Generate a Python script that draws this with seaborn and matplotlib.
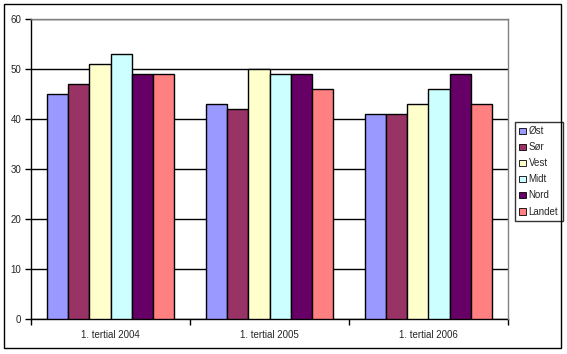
import pandas as pd
import matplotlib
matplotlib.use("Agg")
import matplotlib.pyplot as plt
import seaborn as sns
from matplotlib.patches import Rectangle

# Data
perioder = ["1. tertial 2004", "1. tertial 2005", "1. tertial 2006"]
regioner = ["Øst", "Sør", "Vest", "Midt", "Nord", "Landet"]
ost = [45, 43, 41]
sor = [47, 42, 41]
vest = [51, 50, 43]
midt = [53, 49, 46]
nord = [49, 49, 49]
landet = [49, 46, 43]

farger = ["#9999FF", "#993366", "#FFFFCC", "#CCFFFF", "#660066", "#FF8080"]

verdier = [ost, sor, vest, midt, nord, landet]
rows = []
for reg, vals in zip(regioner, verdier):
    for per, v in zip(perioder, vals):
        rows.append({"Periode": per, "Region": reg, "Verdi": v})
df = pd.DataFrame(rows)

sns.set_style("white")
plt.rcParams["font.family"] = ["Liberation Sans", "DejaVu Sans"]

fig = plt.figure(figsize=(5.67, 3.54), dpi=100)
ax = fig.add_axes([31 / 567, 35 / 354, 477 / 567, 300 / 354])

sns.barplot(data=df, x="Periode", y="Verdi", hue="Region", order=perioder,
            hue_order=regioner, palette=farger, width=0.8, edgecolor="black",
            linewidth=1.0, saturation=1, ax=ax, zorder=3)

ax.set_ylim(0, 60)
ax.set_xlim(-0.5, 2.5)
ax.set_yticks(range(0, 61, 10))
ax.yaxis.grid(True, color="black", linewidth=1.0, zorder=0)
ax.set_axisbelow(True)
ax.set_xlabel("")
ax.set_ylabel("")

# category ticks between groups, labels in the middle
ax.set_xticks([0, 1, 2])
ax.set_xticklabels(perioder)
ax.set_xticks([-0.5, 0.5, 1.5, 2.5], minor=True)
ax.tick_params(axis="x", which="major", length=0, labelsize=7, pad=8)
ax.tick_params(axis="x", which="minor", length=4, width=1, color="black", direction="out", bottom=True)
ax.tick_params(axis="y", length=4, width=1, color="black", direction="out", left=True, labelsize=7, pad=3)

for side in ["left", "bottom"]:
    ax.spines[side].set_color("black")
    ax.spines[side].set_linewidth(1.0)
for side in ["top", "right"]:
    ax.spines[side].set_color("#808080")
    ax.spines[side].set_linewidth(1.0)
    ax.spines[side].set_zorder(10)

leg = ax.legend(loc="upper left", bbox_to_anchor=(515 / 567, 1 - 122 / 354),
                bbox_transform=fig.transFigure, fontsize=7, frameon=True,
                fancybox=False, edgecolor="black", handlelength=0.7,
                handleheight=0.7, handletextpad=0.25, borderpad=0.45,
                labelspacing=0.62, borderaxespad=0)
leg.get_frame().set_linewidth(1.0)
for h in leg.legend_handles:
    h.set_edgecolor("black")
    h.set_linewidth(0.6)

# outer chart frame
fig.patches.append(Rectangle((4 / 567, 6 / 354), 557 / 567, 344 / 354,
                             transform=fig.transFigure, fill=False,
                             edgecolor="black", linewidth=1.0))

fig.savefig("out.png", dpi=100)
